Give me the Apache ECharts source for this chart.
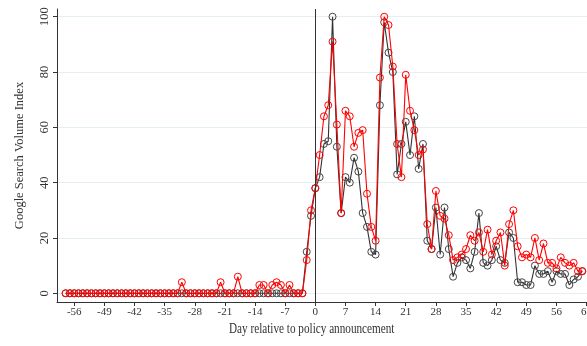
<!DOCTYPE html>
<html>
<head>
<meta charset="utf-8">
<script src="https://cdn.jsdelivr.net/npm/echarts@6/dist/echarts.min.js"></script>
<style>
  html, body { margin: 0; padding: 0; background: #ffffff; }
  #chart { width: 587px; height: 346px; }
</style>
</head>
<body>
<div id="chart"></div>
<script>
// Daily search volume index, day -58 through day 62 relative to the announcement
const firstDay = -58;

const seriesBlack = [
  0, 0, 0, 0, 0, 0, 0, 0, 0, 0,          // -58 .. -49
  0, 0, 0, 0, 0, 0, 0, 0, 0, 0,          // -48 .. -39
  0, 0, 0, 0, 0, 0, 0, 0, 0, 0,          // -38 .. -29
  0, 0, 0, 0, 0, 0, 0, 0, 0, 0,          // -28 .. -19
  0, 0, 0, 0, 0, 0, 0, 0, 0, 0,          // -18 .. -9
  0, 0, 0, 0, 0, 0, 15, 28,              // -8 .. -1
  38, 42, 54, 55, 100, 53, 29, 42, 40, 49,   // 0 .. 9
  44, 29, 24, 15, 14, 68, 98, 87, 80, 43,    // 10 .. 19
  54, 62, 50, 64, 45, 54, 19, 16, 31, 14,    // 20 .. 29
  31, 16, 6, 11, 13, 12, 9, 15, 29, 11,      // 30 .. 39
  10, 12, 17, 12, 11, 22, 20, 4, 4, 3,       // 40 .. 49
  3, 10, 7, 7, 8, 4, 8, 7, 7, 3,             // 50 .. 59
  5, 6, 8                                    // 60 .. 62
];

const seriesRed = [
  0, 0, 0, 0, 0, 0, 0, 0, 0, 0,          // -58 .. -49
  0, 0, 0, 0, 0, 0, 0, 0, 0, 0,          // -48 .. -39
  0, 0, 0, 0, 0, 0, 0, 4, 0, 0,          // -38 .. -29
  0, 0, 0, 0, 0, 0, 4, 0, 0, 0,          // -28 .. -19
  6, 0, 0, 0, 0, 3, 3, 0, 3, 4,          // -18 .. -9
  3, 0, 3, 0, 0, 0, 12, 30,              // -8 .. -1
  38, 50, 64, 68, 91, 61, 29, 66, 64, 53,    // 0 .. 9
  58, 59, 36, 24, 19, 78, 100, 97, 82, 54,   // 10 .. 19
  42, 79, 66, 59, 50, 52, 25, 16, 37, 28,    // 20 .. 29
  27, 21, 12, 13, 14, 16, 21, 19, 22, 15,    // 30 .. 39
  23, 14, 19, 22, 10, 25, 30, 17, 13, 14,    // 40 .. 49
  13, 20, 12, 18, 11, 11, 9, 13, 11, 10,     // 50 .. 59
  11, 8, 8                                   // 60 .. 62
];

const xTicks = [-56, -49, -42, -35, -28, -21, -14, -7, 0, 7, 14, 21, 28, 35, 42, 49, 56, 63];
const yTicks = [0, 20, 40, 60, 80, 100];

const xTitle = 'Day relative to policy announcement';
const yTitle = 'Google Search Volume Index';

function pairs(values) {
  return values.map((v, i) => [firstDay + i, v]);
}

const serif = '"Liberation Serif", "Times New Roman", serif';
const ink = '#333333';

const chart = echarts.init(document.getElementById('chart'), null, { renderer: 'canvas' });

chart.setOption({
  animation: false,
  backgroundColor: '#ffffff',
  // the day axis runs right up to the edge of the canvas; its last label is clipped
  grid: {
    left: 57, right: 0, top: 9, bottom: 44,
    containLabel: false,
    outerBoundsMode: 'none'
  },
  xAxis: {
    type: 'value',
    min: -60,
    max: 63.1,
    axisLine: { show: true, onZero: false, lineStyle: { color: ink, width: 1 } },
    axisTick: { show: true, length: 4, customValues: xTicks, lineStyle: { color: ink } },
    axisLabel: {
      customValues: xTicks,
      fontFamily: serif, fontSize: 11, color: ink, margin: 5,
      showMaxLabel: true
    },
    splitLine: { show: false }
  },
  yAxis: {
    type: 'value',
    min: -3.15,
    max: 102.8,
    name: yTitle,
    nameLocation: 'middle',
    nameGap: 31,
    nameTextStyle: { fontFamily: serif, fontSize: 12.5, color: ink },
    axisLine: { show: true, onZero: false, lineStyle: { color: ink, width: 1 } },
    axisTick: { show: true, length: 4, customValues: yTicks, lineStyle: { color: ink } },
    axisLabel: {
      customValues: yTicks,
      rotate: 90,
      fontFamily: serif, fontSize: 12.5, color: ink, margin: 6
    },
    splitLine: { show: true, lineStyle: { color: '#e6eff0', width: 1 } }
  },
  graphic: [{
    type: 'text',
    left: 229,
    top: 322,
    style: {
      text: xTitle,
      font: '14px ' + serif,
      fill: ink
    },
    scaleX: 0.8
  }],
  series: [
    {
      name: 'black',
      type: 'line',
      data: pairs(seriesBlack),
      symbol: 'circle',
      symbolSize: 7,
      showAllSymbol: true,
      lineStyle: { color: '#333333', width: 1.1 },
      itemStyle: { color: 'rgba(0,0,0,0)', borderColor: '#444444', borderWidth: 1 },
      z: 2,
      markLine: {
        silent: true,
        symbol: 'none',
        label: { show: false },
        lineStyle: { color: ink, type: 'solid', width: 1 },
        data: [{ xAxis: 0 }]
      }
    },
    {
      name: 'red',
      type: 'line',
      data: pairs(seriesRed),
      symbol: 'circle',
      symbolSize: 7,
      showAllSymbol: true,
      lineStyle: { color: '#ff0000', width: 1.1 },
      itemStyle: { color: 'rgba(0,0,0,0)', borderColor: '#ff0000', borderWidth: 1 },
      z: 3
    }
  ]
});
</script>
</body>
</html>
